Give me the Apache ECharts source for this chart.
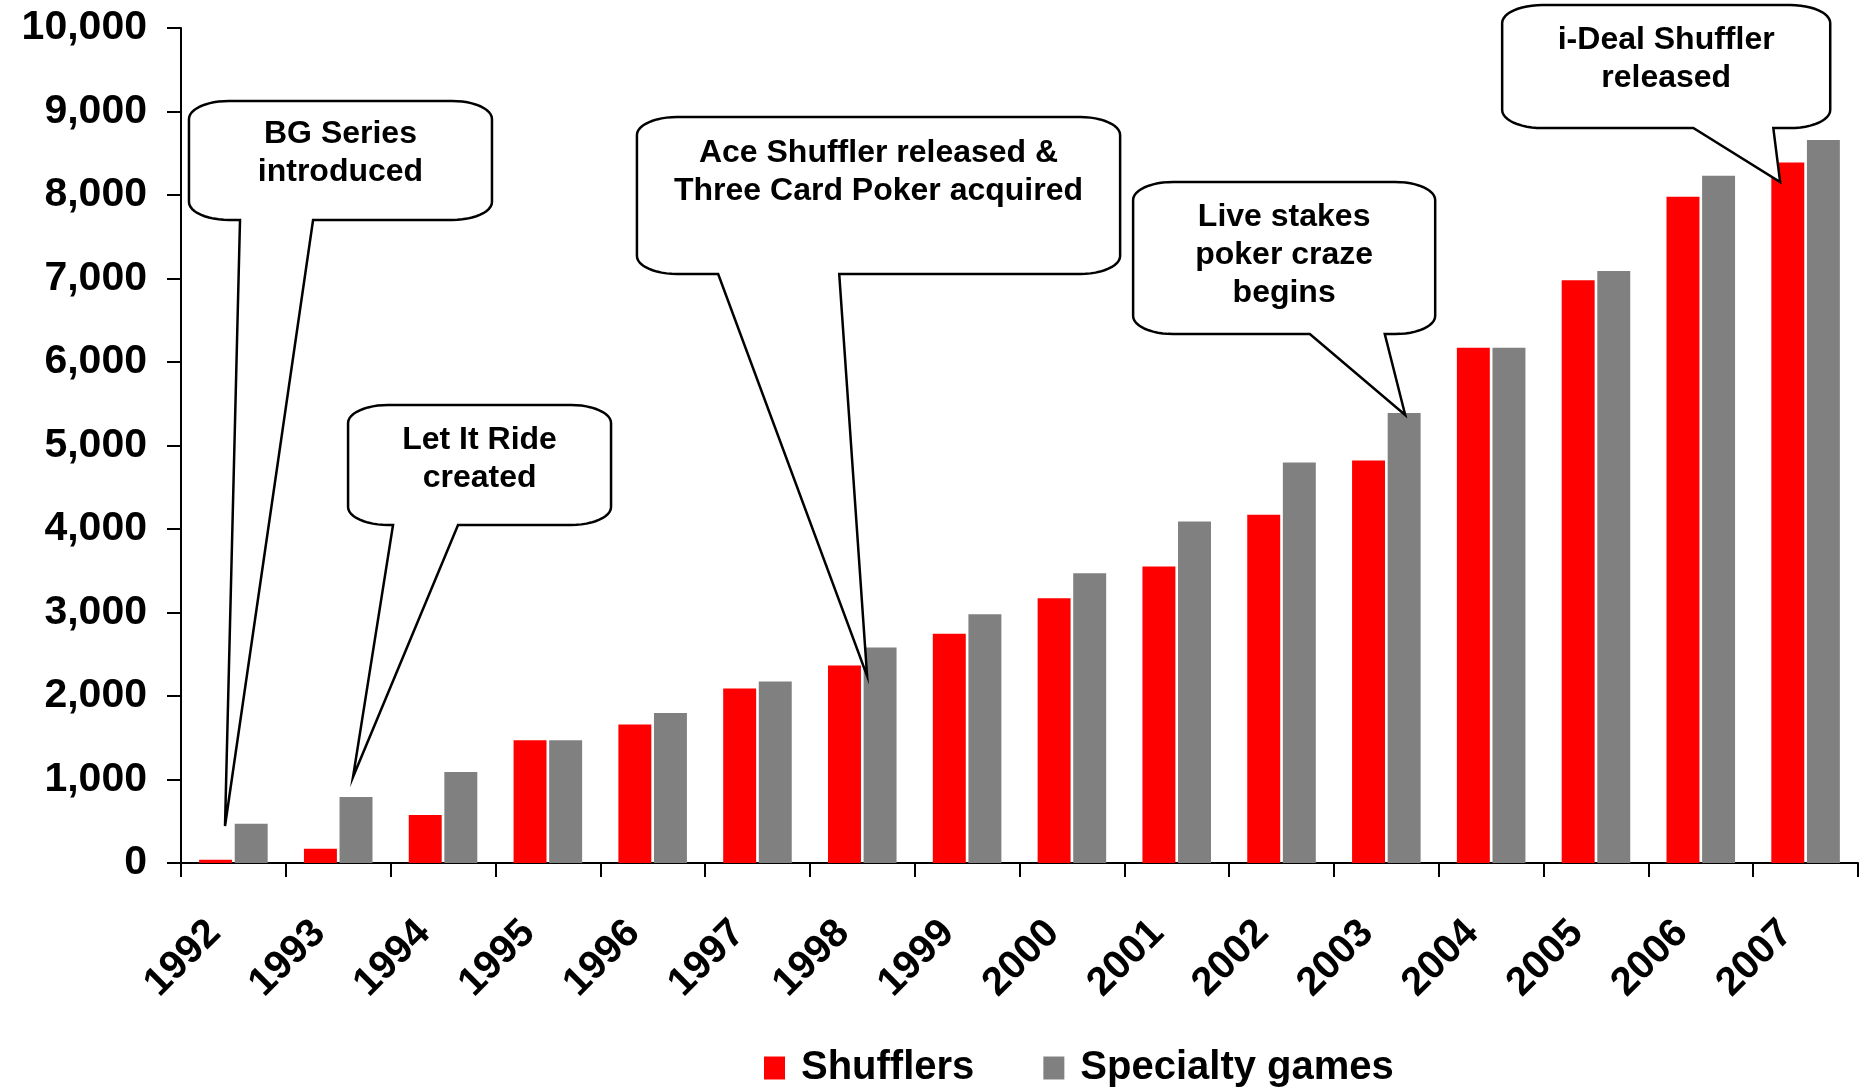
<!DOCTYPE html>
<html><head><meta charset="utf-8">
<script src="https://cdn.jsdelivr.net/npm/echarts@6/dist/echarts.min.js"></script>
<style>html,body{margin:0;padding:0;background:#fff}#c{width:1867px;height:1087px}</style>
</head><body><div id="c"></div>
<script>
// ---- data ----
const years = ['1992','1993','1994','1995','1996','1997','1998','1999','2000','2001','2002','2003','2004','2005','2006','2007'];
const shufflers = [40,170,575,1470,1660,2090,2365,2745,3170,3550,4170,4820,6170,6980,7980,8390];
const specialty = [470,790,1090,1470,1795,2175,2580,2980,3470,4090,4795,5390,6170,7090,8230,8660];
const seriesNames = ['Shufflers','Specialty games'];
const yMin = 0, yMax = 10000, yStep = 1000;

// ---- annotations (x in category units from first year, y in values) ----
const calloutText = [
  ['BG Series','introduced'],
  ['Let It Ride','created'],
  ['Ace Shuffler released &','Three Card Poker acquired'],
  ['Live stakes','poker craze','begins'],
  ['i-Deal Shuffler','released']
];
const calloutBox = [
  [-0.424, 9126, 2.467, 7701],
  [1.094, 5485, 3.603, 4048],
  [3.85, 8934, 8.46, 7054],
  [8.584, 8156, 11.466, 6335],
  [12.105, 10275, 15.235, 8802]
];
const calloutTail = [[0.063,0.760],[1.523,2.143],[4.625,5.78],[10.27,10.985],[13.929,14.692]];
const calloutTip = [[-0.08,443],[1.141,1030],[6.046,2240],[11.18,5365],[14.757,8156]];
const calloutTextPos = [0.44,0.45,0.35,0.48,0.44];

const FONT = '"Liberation Sans", Arial, sans-serif';
const chart = echarts.init(document.getElementById('c'), null, {renderer:'canvas'});
chart.setOption({
  animation:false,
  backgroundColor:'#fff',
  grid:{left:181,right:9,top:28,bottom:224,containLabel:false},
  legend:{
    data:seriesNames, left:759, top:1043, icon:'rect', itemWidth:21, itemHeight:23, itemGap:69,
    textStyle:{fontFamily:FONT,fontWeight:'bold',fontSize:40,color:'#000',padding:[0,0,0,11]}
  },
  xAxis:{
    type:'category', data:years, boundaryGap:true,
    axisLine:{lineStyle:{color:'#000',width:2}},
    axisTick:{show:true,length:14,lineStyle:{color:'#000',width:2}},
    axisLabel:{rotate:45,margin:45,interval:0,fontFamily:FONT,fontWeight:'bold',fontSize:40,color:'#000',padding:[0,27,0,0]},
    splitLine:{show:false}
  },
  yAxis:{
    type:'value', min:yMin, max:yMax, interval:yStep,
    axisLine:{show:true,lineStyle:{color:'#000',width:2}},
    axisTick:{show:true,length:14,lineStyle:{color:'#000',width:2}},
    axisLabel:{margin:34,fontFamily:FONT,fontWeight:'bold',fontSize:41,color:'#000',
      formatter:v=>v.toLocaleString('en-US')},
    splitLine:{show:false}
  },
  series:[
    {name:seriesNames[0],type:'bar',data:shufflers,itemStyle:{color:'#ff0000'},barCategoryGap:'34.6%',barGap:'8%'},
    {name:seriesNames[1],type:'bar',data:specialty,itemStyle:{color:'#808080'},barCategoryGap:'34.6%',barGap:'8%'}
  ]
});

// build callouts using axis scales
const x0 = chart.convertToPixel({xAxisIndex:0}, years[0]);
const x1 = chart.convertToPixel({xAxisIndex:0}, years[1]);
const step = x1 - x0;
const px = c => x0 + c*step;
const py = v => chart.convertToPixel({yAxisIndex:0}, v);
const rx = 40, ry = 18;
function arc(pts, cx, cy, a0, a1){
  const n = 12;
  for(let k=0;k<=n;k++){
    const t = (a0 + (a1-a0)*k/n)*Math.PI/180;
    pts.push([cx + rx*Math.cos(t), cy + ry*Math.sin(t)]);
  }
}
const graphics = [];
calloutText.forEach((lines,i)=>{
  const b = calloutBox[i];
  const X1 = px(b[0]), Y1 = py(b[1]), X2 = px(b[2]), Y2 = py(b[3]);
  const T1 = px(calloutTail[i][0]), T2 = px(calloutTail[i][1]);
  const tip = [px(calloutTip[i][0]), py(calloutTip[i][1])];
  const pts = [];
  arc(pts, X2-rx, Y1+ry, -90, 0);
  arc(pts, X2-rx, Y2-ry, 0, 90);
  pts.push([T2,Y2]); pts.push(tip); pts.push([T1,Y2]);
  arc(pts, X1+rx, Y2-ry, 90, 180);
  arc(pts, X1+rx, Y1+ry, 180, 270);
  graphics.push({type:'polygon', z:100, shape:{points:pts},
    style:{fill:'#fff',stroke:'#000',lineWidth:2.5,lineJoin:'miter'}});
  graphics.push({type:'text', z:101, x:(X1+X2)/2, y:Y1 + calloutTextPos[i]*(Y2-Y1),
    style:{text:lines.join('\n'), fill:'#000', font:'bold 32px '+FONT, lineHeight:38,
      align:'center', verticalAlign:'middle'}});
});
chart.setOption({graphic:graphics});
</script></body></html>
